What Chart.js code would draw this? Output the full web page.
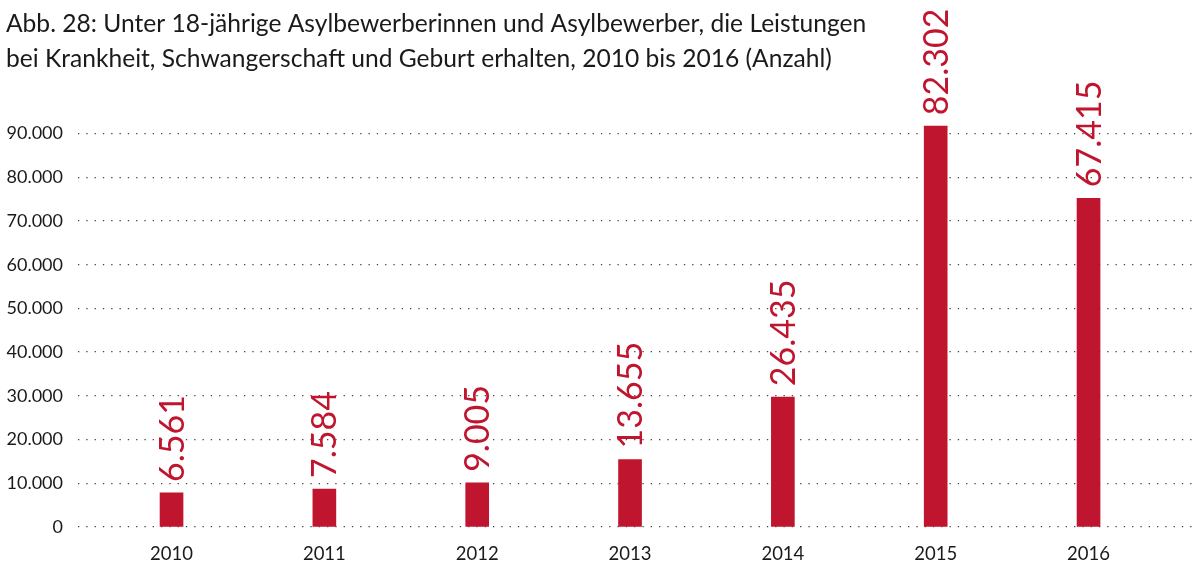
<!DOCTYPE html>
<html lang="de">
<head>
<meta charset="utf-8">
<script src="https://cdn.jsdelivr.net/npm/chart.js@4/dist/chart.umd.min.js"></script>
<style>
  html, body { margin: 0; padding: 0; background: #fff; }
  canvas { display: block; }
</style>
</head>
<body>
<canvas id="chart" width="1195" height="565"></canvas>
<script>
const years = [2010, 2011, 2012, 2013, 2014, 2015, 2016];
// Balkenhöhen gegen die y-Achse gemessen (die Vorlage zeichnet sie etwas höher als die Beschriftung).
const barHeights = [7800, 8700, 10100, 15450, 29700, 91700, 75200];
// Die an den Balken gedruckten Zahlen.
const printedValues = [6561, 7584, 9005, 13655, 26435, 82302, 67415];
const yTicks = [0, 10000, 20000, 30000, 40000, 50000, 60000, 70000, 80000, 90000];
const titleLines = [
  "Abb. 28: Unter 18-jährige Asylbewerberinnen und Asylbewerber, die Leistungen",
  "bei Krankheit, Schwangerschaft und Geburt erhalten, 2010 bis 2016 (Anzahl)",
];

const RED = "#c0152f";
const TEXT = "#1a1a1a";
const FONT = "Lato, 'Open Sans', sans-serif";

// Draws the printed value rotated above each bar.
const valueLabels = {
  id: "valueLabels",
  afterDatasetsDraw(chart) {
    const ctx = chart.ctx;
    const meta = chart.getDatasetMeta(0);
    ctx.save();
    ctx.fillStyle = RED;
    ctx.font = "34px " + FONT;
    ctx.textAlign = "left";
    ctx.textBaseline = "middle";
    meta.data.forEach((bar, i) => {
      ctx.save();
      ctx.translate(bar.x, bar.y - 11);
      ctx.rotate(-Math.PI / 2);
      ctx.fillText(printedValues[i].toLocaleString("de-DE"), 0, 1);
      ctx.restore();
    });
    ctx.restore();
  },
};

new Chart(document.getElementById("chart"), {
  type: "bar",
  data: {
    datasets: [
      {
        data: years.map((y, i) => ({ x: y, y: barHeights[i] })),
        backgroundColor: RED,
        barThickness: 23,
      },
    ],
  },
  options: {
    responsive: false,
    animation: false,
    layout: { padding: { left: 6, right: 3, top: 0, bottom: 0 } },
    plugins: {
      legend: { display: false },
      tooltip: { enabled: false },
      title: {
        display: true,
        text: titleLines,
        align: "start",
        color: TEXT,
        font: { family: FONT, size: 24.6, weight: "normal", lineHeight: 1.42 },
        padding: { top: 7, bottom: 13 },
      },
    },
    scales: {
      x: {
        type: "linear",
        offset: false,
        min: 2009.388,
        max: 2016.677,
        grid: { display: false, drawTicks: false },
        border: { display: false },
        afterBuildTicks: (axis) => {
          axis.ticks = years.map((v) => ({ value: v }));
        },
        afterFit: (axis) => {
          axis.height = 38;
        },
        ticks: {
          color: TEXT,
          font: { family: FONT, size: 18.5 },
          padding: 16,
          maxRotation: 0,
          callback: (v) => String(v),
        },
      },
      y: {
        min: 0,
        max: 100000,
        afterBuildTicks: (axis) => {
          axis.ticks = yTicks.map((v) => ({ value: v }));
        },
        afterFit: (axis) => {
          axis.width = 72;
        },
        grid: { color: "#444", lineWidth: 1.3, drawTicks: false },
        border: { display: false, dash: [1.3, 7] },
        ticks: {
          color: TEXT,
          font: { family: FONT, size: 18 },
          padding: 15,
          callback: (v) => v.toLocaleString("de-DE"),
        },
      },
    },
  },
  plugins: [valueLabels],
});
</script>
</body>
</html>
